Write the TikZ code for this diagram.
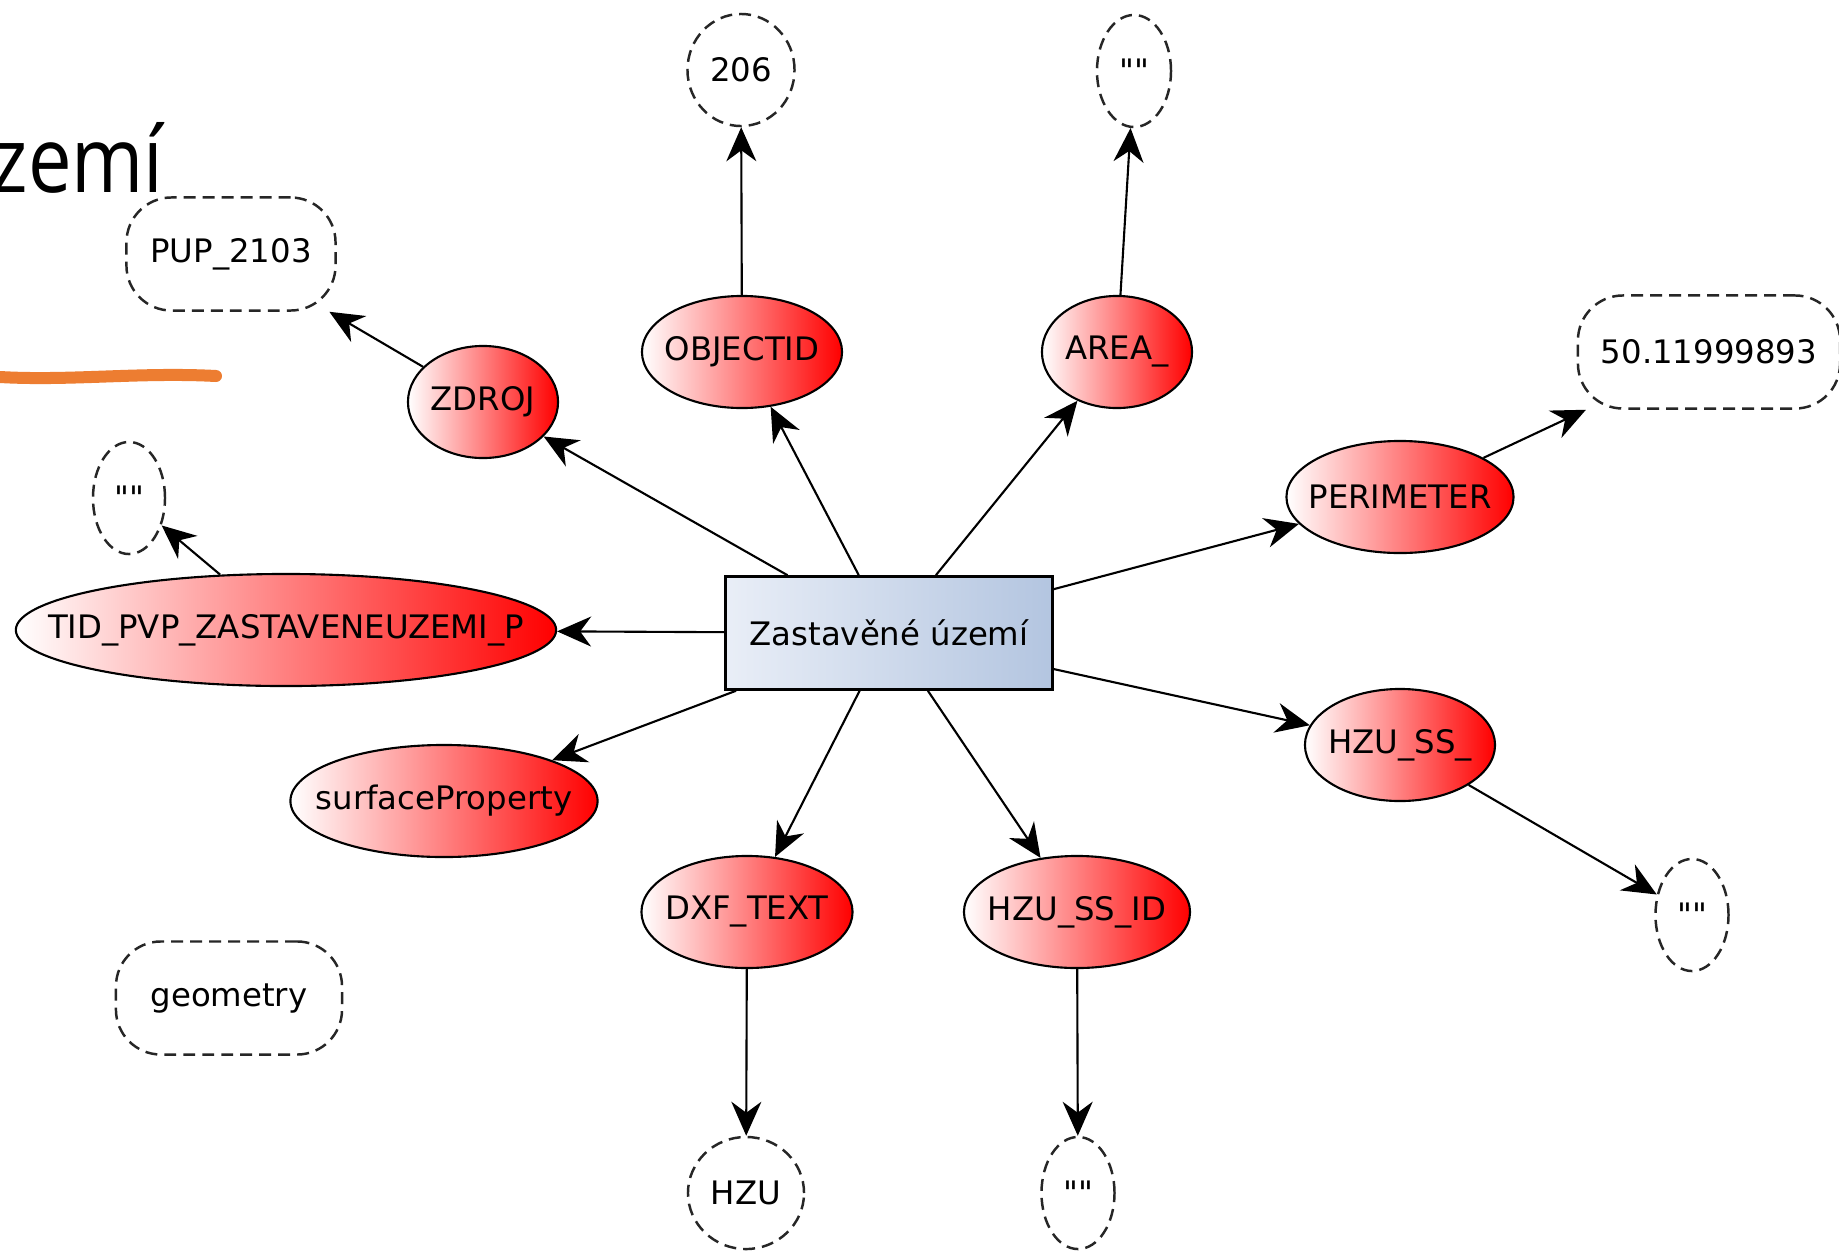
\documentclass[tikz,border=0pt]{standalone}
\usepackage{fontspec}
\setmainfont{DejaVu Sans}[Ligatures=TeXOff]
\newfontfamily\titlefont{Open Sans}
\usetikzlibrary{arrows.meta,shapes.geometric}

\definecolor{accent}{HTML}{ED7D31}
\definecolor{boxleft}{HTML}{E9EEF7}
\definecolor{boxright}{HTML}{B3C5E0}
\newcommand{\fit}[1]{\makebox[0pt]{#1}}

\begin{document}
\begin{tikzpicture}[x=0.01cm,y=-0.01cm,
    font=\fontsize{9.2}{11}\selectfont,
    attr/.style={ellipse,draw=black,line width=0.6pt,inner sep=0pt,
                 minimum height=1.12cm,left color=white,right color=red},
    val/.style={ellipse,draw=black!85,line width=0.7pt,inner sep=0pt,
                minimum height=1.12cm,dash pattern=on 3.4pt off 2pt},
    valbox/.style={rectangle,rounded corners=0.45cm,draw=black!85,line width=0.7pt,
                   inner sep=0pt,minimum height=1.13cm,dash pattern=on 3.4pt off 2pt},
    feature/.style={rectangle,draw=black,line width=0.7pt,inner sep=0pt,
                    minimum width=3.27cm,minimum height=1.13cm,
                    left color=boxleft,right color=boxright}]

    \fill[white] (0,0) rectangle (1839,1251);
    \useasboundingbox (0,0) rectangle (1839,1251);

    % slide title and underline
    \node[anchor=base east,font=\titlefont\fontsize{26}{30}\selectfont] (title)
        at (176,192) {\scalebox{0.85}[1]{zemí}};
    \draw[accent,line width=0.12cm,line cap=round]
        (0,377) .. controls (70,381) and (140,372) .. (216,376);

    \node[feature] (zu) at (889,633) {Zastavěné území};

    % attributes
    \node[attr,minimum width=1.50cm] (zdroj)  at (483,402)  {\fit{ZDROJ}};
    \node[attr,minimum width=2.00cm] (objid)  at (742,352)  {\fit{OBJECTID}};
    \node[attr,minimum width=1.50cm] (area)   at (1117,352) {\fit{AREA\_}};
    \node[attr,minimum width=2.27cm] (perim)  at (1400,497) {\fit{PERIMETER}};
    \node[attr,minimum width=5.40cm] (tid)    at (286,630)  {\fit{TID\_PVP\_ZASTAVENEUZEMI\_P}};
    \node[attr,minimum width=3.07cm] (surf)   at (444,801)  {\fit{surfaceProperty}};
    \node[attr,minimum width=1.90cm] (hzuss)  at (1400,745) {\fit{HZU\_SS\_}};
    \node[attr,minimum width=2.11cm] (dxf)    at (747,912)  {\fit{DXF\_TEXT}};
    \node[attr,minimum width=2.26cm] (hzuid)  at (1077,912) {\fit{HZU\_SS\_ID}};

    % values
    \node[valbox,minimum width=2.09cm] (pup)   at (231,254)  {PUP\_2103};
    \node[valbox,minimum width=2.62cm] (perv)  at (1709,352) {50.11999893};
    \node[valbox,minimum width=2.26cm] (geom)  at (229,998)  {geometry};
    \node[val,minimum width=1.07cm]    (objv)  at (741,70)   {206};
    \node[val,minimum width=0.74cm]    (areav) at (1134,71)  {""};
    \node[val,minimum width=0.72cm]    (tidv)  at (129,498)  {""};
    \node[val,minimum width=0.73cm]    (ssv)   at (1692,915) {""};
    \node[val,minimum width=1.16cm]    (dxfv)  at (746,1193) {HZU};
    \node[val,minimum width=0.73cm]    (idv)   at (1078,1193) {""};

    \begin{scope}[>={Stealth[length=3.4mm,width=3mm,inset=1.1mm]},
                  every edge/.style={draw=black,line width=0.6pt}]
        \path [->] (zu) edge (zdroj);
        \path [->] (zu) edge (objid);
        \path [->] (zu) edge (area);
        \path [->] (zu) edge (perim);
        \path [->] (zu) edge (tid);
        \path [->] (zu) edge (surf);
        \path [->] (zu) edge (hzuss);
        \path [->] (zu) edge (dxf);
        \path [->] (zu) edge (hzuid);

        \path [->] (zdroj) edge (pup);
        \path [->] (objid) edge (objv);
        \path [->] (area)  edge (areav);
        \path [->] (perim) edge (perv);
        \path [->] (tid)   edge (tidv);
        \path [->] (hzuss) edge (ssv);
        \path [->] (dxf)   edge (dxfv);
        \path [->] (hzuid) edge (idv);
    \end{scope}
\end{tikzpicture}
\end{document}
